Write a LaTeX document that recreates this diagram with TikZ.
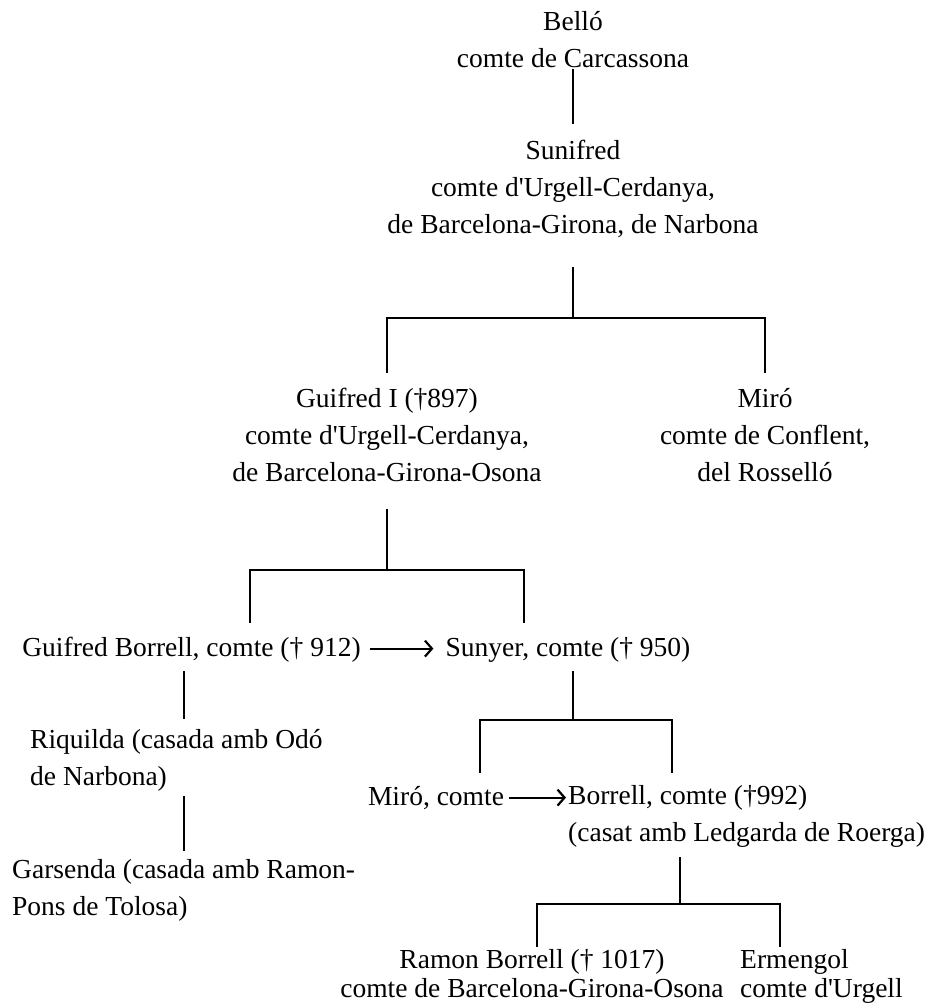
\documentclass[tikz,border=0pt]{standalone}
\usepackage{fontspec}
\setmainfont{Liberation Serif}[Ligatures=TeXOff]
\usetikzlibrary{arrows.meta}
\newcommand\fsz{\fontsize{27.5}{37}\selectfont}
\newcommand\fszb{\fontsize{27.5}{29}\selectfont}
\tikzset{
  person/.style={align=center, inner sep=0pt, font=\fsz},
  personl/.style={align=left, inner sep=0pt, font=\fsz},
  tree/.style={line width=2.2pt, line cap=rect},
  succ/.style={line width=2pt, -{Straight Barb[length=7pt,width=16pt,line width=2.2pt]}}
}
\begin{document}
\begin{tikzpicture}[x=1pt,y=-1pt]
\useasboundingbox (0,0) rectangle (932,1005);
% people
\node[person] (bello) at (573,42) {\strut Belló\\\strut comte de Carcassona};
\node[person] (sunifred) at (573,188.6) {\strut Sunifred\\\strut comte d'Urgell-Cerdanya,\\\strut de Barcelona-Girona, de Narbona};
\node[person] (guifred) at (387,436.6) {\strut Guifred I (†897)\\\strut comte d'Urgell-Cerdanya,\\\strut de Barcelona-Girona-Osona};
\node[person] (miro) at (765,436.6) {\strut Miró\\\strut comte de Conflent,\\\strut del Rosselló};
\node[person] (gborrell) at (191.5,648.6) {\strut Guifred Borrell, comte († 912)};
\node[person] (sunyer) at (568,648.6) {\strut Sunyer, comte († 950)};
\node[personl, anchor=west] (riquilda) at (30,760) {\strut Riquilda (casada amb Odó\\\strut de Narbona)};
\node[personl, anchor=west] (garsenda) at (12,890) {\strut Garsenda (casada amb Ramon-\\\strut Pons de Tolosa)};
\node[person] (mirocomte) at (436,797.6) {\strut Miró, comte};
\node[personl, anchor=west] (borrell) at (568,816) {\strut Borrell, comte (†992)\\\strut (casat amb Ledgarda de Roerga)};
\node[person, font=\fszb] (ramon) at (532,977) {\strut Ramon Borrell († 1017)\\\strut comte de Barcelona-Girona-Osona};
\node[personl, font=\fszb, anchor=west] (ermengol) at (740,977) {\strut Ermengol\\\strut comte d'Urgell};
% bus coordinates
\coordinate (bus1) at (573,318);
\coordinate (bus2) at (387,570);
\coordinate (bus3) at (573,720);
\coordinate (bus4) at (680,904);
% lines
\draw[tree] (bello |- 0,70) -- (sunifred |- 0,123);
\draw[tree] (sunifred |- 0,268) -- (bus1);
\draw[tree] (guifred |- 0,372) -- (guifred |- bus1) -- (miro |- bus1) -- (miro |- 0,372);
\draw[tree] (guifred |- 0,510) -- (bus2);
\draw[tree] (250,622) -- (250,570) -- (524,570) -- (524,622);
\draw[tree] (184,672) -- (184,718);
\draw[tree] (184,797) -- (184,850);
\draw[tree] (573,672) -- (bus3);
\draw[tree] (480,772) -- (480,720) -- (672,720) -- (672,772);
\draw[tree] (680,858) -- (bus4);
\draw[tree] (537,946) -- (537,904) -- (780,904) -- (780,946);
% succession arrows
\draw[succ] ([xshift=9pt]gborrell.east) -- ([xshift=-12pt]sunyer.west);
\draw[succ] ([xshift=5pt]mirocomte.east) -- ([xshift=-2pt]mirocomte.east -| borrell.west);
\end{tikzpicture}
\end{document}
